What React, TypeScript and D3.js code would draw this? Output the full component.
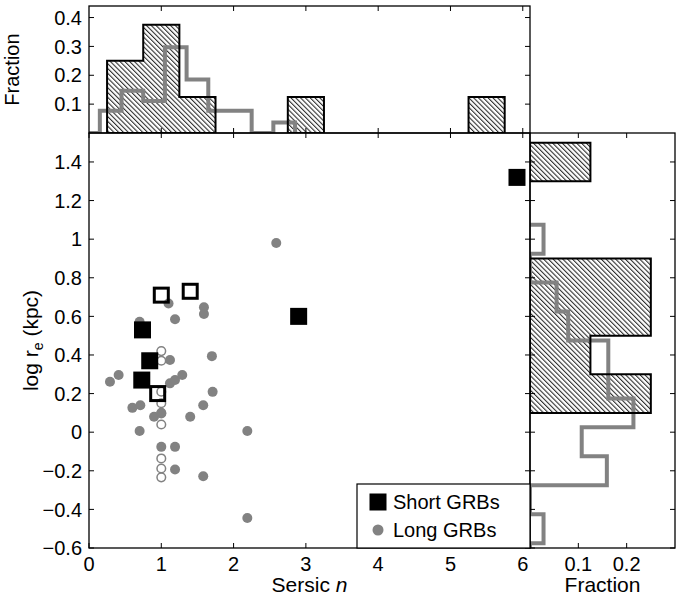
import React from "react";
import * as d3 from "d3";

// ---------- data ----------
const xTicks = [0, 1, 2, 3, 4, 5, 6];
const yTicks = [-0.6, -0.4, -0.2, 0, 0.2, 0.4, 0.6, 0.8, 1, 1.2, 1.4];
const topYTicks = [0.1, 0.2, 0.3, 0.4];
const rightXTicks = [0.1, 0.2];

// Short GRBs (filled squares)
const shortFilledN = [5.92, 2.9, 0.74, 0.84, 0.73];
const shortFilledRe = [1.32, 0.6, 0.53, 0.37, 0.27];
// Short GRBs (open squares)
const shortOpenN = [1.0, 1.4, 0.95];
const shortOpenRe = [0.71, 0.73, 0.2];

// Long GRBs (filled circles)
const longFilledN = [2.59, 1.1, 1.19, 1.59, 1.59, 0.7, 1.12, 1.7, 0.29, 0.41, 1.12, 1.19, 1.29, 1.71, 1.58, 0.6, 0.71, 0.9, 1.0, 1.4, 0.7, 2.19, 1.0, 1.19, 1.19, 1.58, 2.19];
const longFilledRe = [0.98, 0.667, 0.585, 0.647, 0.612, 0.572, 0.374, 0.394, 0.261, 0.296, 0.253, 0.27, 0.296, 0.209, 0.14, 0.126, 0.14, 0.08, 0.097, 0.08, 0.006, 0.006, -0.076, -0.076, -0.193, -0.228, -0.445];
// Long GRBs (open circles, fixed n)
const longOpenN = [1, 1, 1, 1, 1, 1, 1, 1, 1];
const longOpenRe = [0.42, 0.37, 0.21, 0.15, 0.1, 0.04, -0.136, -0.188, -0.234];

// Histograms
const shortTopStart = 0.25;
const shortTopWidth = 0.5;
const shortTopFrac = [0.25, 0.375, 0.125, 0, 0, 0.125, 0, 0, 0, 0, 0.125];

const longTopStart = 0.15;
const longTopWidth = 0.3;
const longTopFrac = [0.077, 0.146, 0.111, 0.297, 0.185, 0.077, 0.077, 0, 0.036];

const shortRightStart = 0.1;
const shortRightWidth = 0.2;
const shortRightFrac = [0.25, 0.125, 0.25, 0.25, 0, 0, 0.125];

const longRightTop = 1.075;
const longRightWidth = 0.15;
const longRightFrac = [0.028, 0, 0.055, 0.079, 0.162, 0.162, 0.214, 0.107, 0.159, 0, 0.028];

// ---------- layout ----------
const W = 685;
const H = 596;
const L = 89, R = 530, T = 133, B = 548;
const TT = 6;
const RR = 675;
const FONT = "'Liberation Sans', Arial, Helvetica, sans-serif";
const GRAY = "#828282";
const TICK = 5;

const fmt = (v: number) => {
  const s = d3.format("")(+v.toFixed(2));
  return s.replace("-", "\u2212");
};

function groups(vals: number[]) {
  const out: number[][] = [];
  let cur: number[] = [];
  vals.forEach((v, i) => {
    if (v > 0) cur.push(i);
    else if (cur.length) { out.push(cur); cur = []; }
  });
  if (cur.length) out.push(cur);
  return out;
}

export default function App() {
  const x = d3.scaleLinear().domain([0, 6.1]).range([L, R]);
  const y = d3.scaleLinear().domain([-0.6, 1.55]).range([B, T]);
  const yTop = d3.scaleLinear().domain([0, 0.44]).range([T, TT]);
  const xR = d3.scaleLinear().domain([0, 0.3]).range([R, RR]);

  const line = d3.line<[number, number]>().x(d => d[0]).y(d => d[1]);

  const topShortPolys = groups(shortTopFrac).map(g => {
    const pts: [number, number][] = [];
    const e0 = shortTopStart + g[0] * shortTopWidth;
    pts.push([x(e0), yTop(0)]);
    g.forEach(i => {
      const e = shortTopStart + i * shortTopWidth;
      pts.push([x(e), yTop(shortTopFrac[i])]);
      pts.push([x(e + shortTopWidth), yTop(shortTopFrac[i])]);
    });
    const e1 = shortTopStart + (g[g.length - 1] + 1) * shortTopWidth;
    pts.push([x(e1), yTop(0)]);
    return line(pts) + "Z";
  });

  const topLongPts: [number, number][] = [[x(0), yTop(0)], [x(longTopStart), yTop(0)]];
  longTopFrac.forEach((v, i) => {
    const e = longTopStart + i * longTopWidth;
    topLongPts.push([x(e), yTop(v)]);
    topLongPts.push([x(e + longTopWidth), yTop(v)]);
  });
  topLongPts.push([x(longTopStart + longTopFrac.length * longTopWidth), yTop(0)]);

  const rightShortPolys = groups(shortRightFrac).map(g => {
    const pts: [number, number][] = [];
    const e0 = shortRightStart + g[0] * shortRightWidth;
    pts.push([xR(0), y(e0)]);
    g.forEach(i => {
      const e = shortRightStart + i * shortRightWidth;
      pts.push([xR(shortRightFrac[i]), y(e)]);
      pts.push([xR(shortRightFrac[i]), y(e + shortRightWidth)]);
    });
    const e1 = shortRightStart + (g[g.length - 1] + 1) * shortRightWidth;
    pts.push([xR(0), y(e1)]);
    return line(pts) + "Z";
  });

  const rightLongPts: [number, number][] = [[xR(0), y(longRightTop)]];
  longRightFrac.forEach((v, i) => {
    const e = longRightTop - i * longRightWidth;
    rightLongPts.push([xR(v), y(e)]);
    rightLongPts.push([xR(v), y(e - longRightWidth)]);
  });
  const lastE = longRightTop - longRightFrac.length * longRightWidth;
  rightLongPts.push([xR(0), y(lastE)]);
  rightLongPts.push([xR(0), y(-0.6)]);

  const sq = 17;
  const osq = 14;

  return (
    <svg width={W} height={H} style={{ position: "absolute", left: 0, top: 0, background: "#fff" }} fontFamily={FONT}>
      <defs>
        <pattern id="hatch" patternUnits="userSpaceOnUse" width="3.4" height="3.4" patternTransform="rotate(-45)">
          <line x1="0.6" y1="0" x2="0.6" y2="3.4" stroke="#000" strokeWidth="0.9" />
        </pattern>
        <clipPath id="topClip"><rect x={L} y={TT} width={R - L} height={T - TT} /></clipPath>
        <clipPath id="rightClip"><rect x={R} y={T} width={RR - R} height={B - T} /></clipPath>
      </defs>
      <rect x={0} y={0} width={W} height={H} fill="#fff" />

      {/* ---------- top histogram ---------- */}
      <g clipPath="url(#topClip)">
        {topShortPolys.map((d, i) => <path key={"tf" + i} d={d} fill="url(#hatch)" stroke="none" />)}
        <path d={line(topLongPts)!} fill="none" stroke={GRAY} strokeWidth={4} strokeLinejoin="miter" />
        {topShortPolys.map((d, i) => <path key={"to" + i} d={d} fill="none" stroke="#000" strokeWidth={2} />)}
      </g>
      <rect x={L} y={TT} width={R - L} height={T - TT} fill="none" stroke="#000" strokeWidth={1.3} />
      {xTicks.filter(t => t > 0).map(t => (
        <g key={"tx" + t}>
          <line x1={x(t)} x2={x(t)} y1={TT} y2={TT + TICK} stroke="#000" />
          <line x1={x(t)} x2={x(t)} y1={T} y2={T - TICK} stroke="#000" />
        </g>
      ))}
      {topYTicks.map(t => (
        <g key={"ty" + t}>
          <line x1={L} x2={L + TICK} y1={yTop(t)} y2={yTop(t)} stroke="#000" />
          <line x1={R} x2={R - TICK} y1={yTop(t)} y2={yTop(t)} stroke="#000" />
          <text x={L - 7} y={yTop(t)} dy="0.36em" textAnchor="end" fontSize={20}>{fmt(t)}</text>
        </g>
      ))}
      <text transform={`translate(19,${(TT + T) / 2}) rotate(-90)`} textAnchor="middle" fontSize={20}>Fraction</text>

      {/* ---------- right histogram ---------- */}
      <g clipPath="url(#rightClip)">
        {rightShortPolys.map((d, i) => <path key={"rf" + i} d={d} fill="url(#hatch)" stroke="none" />)}
        <path d={line(rightLongPts)!} fill="none" stroke={GRAY} strokeWidth={4} strokeLinejoin="miter" />
        {rightShortPolys.map((d, i) => <path key={"ro" + i} d={d} fill="none" stroke="#000" strokeWidth={2} />)}
      </g>
      <rect x={R} y={T} width={RR - R} height={B - T} fill="none" stroke="#000" strokeWidth={1.3} />
      {rightXTicks.map(t => (
        <g key={"rx" + t}>
          <line x1={xR(t)} x2={xR(t)} y1={T} y2={T + TICK} stroke="#000" />
          <line x1={xR(t)} x2={xR(t)} y1={B} y2={B - TICK} stroke="#000" />
          <text x={xR(t)} y={571} textAnchor="middle" fontSize={20}>{fmt(t)}</text>
        </g>
      ))}
      {yTicks.map(t => (
        <g key={"ry" + t}>
          <line x1={R} x2={R + TICK} y1={y(t)} y2={y(t)} stroke="#000" />
          <line x1={RR} x2={RR - TICK} y1={y(t)} y2={y(t)} stroke="#000" />
        </g>
      ))}
      <text x={(R + RR) / 2} y={592} textAnchor="middle" fontSize={21}>Fraction</text>

      {/* ---------- main scatter ---------- */}
      <rect x={L} y={T} width={R - L} height={B - T} fill="none" stroke="#000" strokeWidth={1.3} />
      {xTicks.map(t => (
        <g key={"mx" + t}>
          <line x1={x(t)} x2={x(t)} y1={B} y2={B - TICK} stroke="#000" />
          <line x1={x(t)} x2={x(t)} y1={T} y2={T + TICK} stroke="#000" />
          <text x={x(t)} y={571} textAnchor="middle" fontSize={20}>{fmt(t)}</text>
        </g>
      ))}
      {yTicks.map(t => (
        <g key={"my" + t}>
          <line x1={L} x2={L + TICK} y1={y(t)} y2={y(t)} stroke="#000" />
          <line x1={R} x2={R - TICK} y1={y(t)} y2={y(t)} stroke="#000" />
          <text x={L - 7} y={y(t)} dy="0.36em" textAnchor="end" fontSize={20}>{fmt(t)}</text>
        </g>
      ))}
      <text x={(L + R) / 2} y={592} textAnchor="middle" fontSize={21}>
        Sersic <tspan fontStyle="italic">n</tspan>
      </text>
      <text transform={`translate(38,${(T + B) / 2}) rotate(-90)`} textAnchor="middle" fontSize={21}>
        log r<tspan fontSize={14} dy={5}>e</tspan><tspan dy={-5}>{"\u00a0(kpc)"}</tspan>
      </text>

      {longOpenN.map((n, i) => (
        <circle key={"lo" + i} cx={x(n)} cy={y(longOpenRe[i])} r={4.3} fill="none" stroke={GRAY} strokeWidth={1.5} />
      ))}
      {longFilledN.map((n, i) => (
        <circle key={"lf" + i} cx={x(n)} cy={y(longFilledRe[i])} r={5} fill={GRAY} />
      ))}
      {shortFilledN.map((n, i) => (
        <rect key={"sf" + i} x={x(n) - sq / 2} y={y(shortFilledRe[i]) - sq / 2} width={sq} height={sq} fill="#000" />
      ))}
      {shortOpenN.map((n, i) => (
        <rect key={"so" + i} x={x(n) - osq / 2} y={y(shortOpenRe[i]) - osq / 2} width={osq} height={osq} fill="none" stroke="#000" strokeWidth={3} />
      ))}

      {/* legend */}
      <rect x={357} y={484} width={R - 357} height={B - 484} fill="#fff" stroke="#000" strokeWidth={1.2} />
      <rect x={378 - sq / 2} y={502 - sq / 2} width={sq} height={sq} fill="#000" />
      <text x={393} y={502} dy="0.36em" fontSize={20}>Short GRBs</text>
      <circle cx={378} cy={530} r={5.5} fill={GRAY} />
      <text x={393} y={530} dy="0.36em" fontSize={20}>Long GRBs</text>
    </svg>
  );
}
